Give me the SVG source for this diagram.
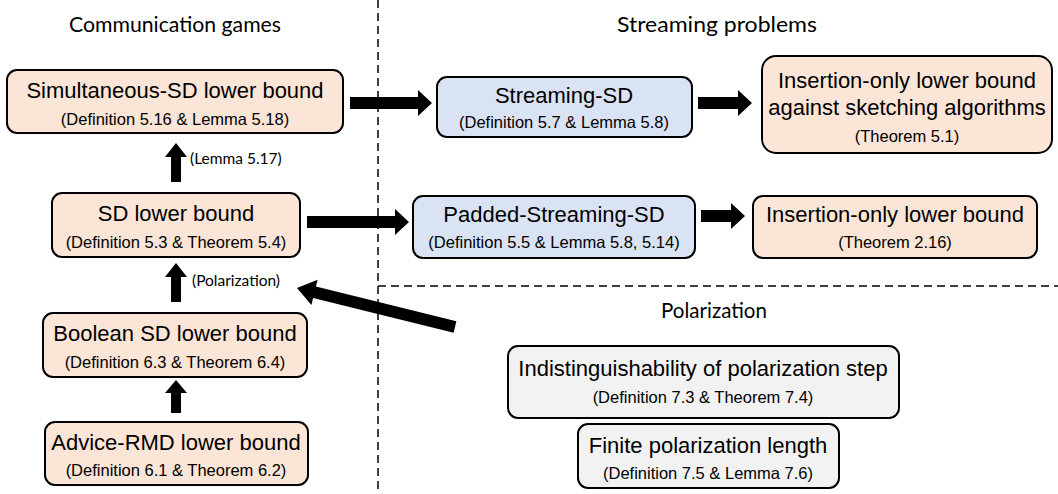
<svg xmlns="http://www.w3.org/2000/svg" width="1058" height="494" viewBox="0 0 1058 494">
<style>
.box{stroke:#000;stroke-width:2}
.peach{fill:#fbe5d6}
.blue{fill:#dae3f3}
.gray{fill:#f2f2f2}
.t{font-family:"Liberation Sans",Arial,sans-serif;font-size:22px;fill:#000;text-anchor:middle}
.s{font-family:"Liberation Sans",Arial,sans-serif;font-size:16.5px;fill:#000;text-anchor:middle}
.h{font-family:Lato,"Open Sans",sans-serif;font-size:20.5px;fill:#000;text-anchor:middle}
.l{font-family:Lato,"Open Sans",sans-serif;font-size:15.5px;fill:#000}
.dash{stroke:#000;stroke-width:1.5;stroke-dasharray:8 5;fill:none}
.arr{fill:#000}
</style>
<rect width="1058" height="494" fill="#fff"/>
<g id="dividers">
<line class="dash" x1="378" y1="0" x2="378" y2="494"/>
<line class="dash" x1="378" y1="286" x2="1058" y2="286"/>
</g>
<g id="headers">
<text class="h" x="175" y="32" textLength="212" lengthAdjust="spacingAndGlyphs">Communication games</text>
<text class="h" x="717" y="32" textLength="200" lengthAdjust="spacingAndGlyphs">Streaming problems</text>
<text class="h" x="714" y="318">Polarization</text>
</g>
<g id="connectors">
<polygon class="arr" points="350,97 418,97 418,90 432,103 418,116 418,109 350,109"/>
<polygon class="arr" points="698,97 738,97 738,90 752,103 738,116 738,109 698,109"/>
<polygon class="arr" points="307,216 395,216 395,209 409,222 395,235 395,228 307,228"/>
<polygon class="arr" points="701,210 731,210 731,203 745,216 731,229 731,222 701,222"/>
<polygon class="arr" points="171,182 171,157 165,157 176,143 187,157 181,157 181,182"/>
<polygon class="arr" points="171,302 171,277 165,277 176,263 187,277 181,277 181,302"/>
<polygon class="arr" points="171,413 171,393 165,393 176,380 187,393 181,393 181,413"/>
<polygon class="arr" points="456.4,321.2 315.9,286.5 317.6,279.7 297,288 311.4,304.9 313.1,298.1 453.6,332.8"/>
<text class="l" x="190" y="164">(Lemma 5.17)</text>
<text class="l" x="192" y="286">(Polarization)</text>
</g>
<g id="simultaneous-sd">
<rect class="box peach" x="7" y="70" width="336" height="63" rx="10"/>
<text class="t" x="175" y="98">Simultaneous-SD lower bound</text>
<text class="s" x="175" y="125">(Definition 5.16 &amp; Lemma 5.18)</text>
</g>
<g id="sd">
<rect class="box peach" x="52" y="193" width="248" height="64" rx="10"/>
<text class="t" x="176" y="221">SD lower bound</text>
<text class="s" x="176" y="248">(Definition 5.3 &amp; Theorem 5.4)</text>
</g>
<g id="boolean-sd">
<rect class="box peach" x="43" y="313" width="264" height="64" rx="10"/>
<text class="t" x="175" y="341">Boolean SD lower bound</text>
<text class="s" x="175" y="368">(Definition 6.3 &amp; Theorem 6.4)</text>
</g>
<g id="advice-rmd">
<rect class="box peach" x="45" y="422" width="263" height="63" rx="10"/>
<text class="t" x="176" y="450">Advice-RMD lower bound</text>
<text class="s" x="176" y="476">(Definition 6.1 &amp; Theorem 6.2)</text>
</g>
<g id="streaming-sd">
<rect class="box blue" x="437" y="77" width="255" height="60" rx="10"/>
<text class="t" x="564" y="103">Streaming-SD</text>
<text class="s" x="564" y="128">(Definition 5.7 &amp; Lemma 5.8)</text>
</g>
<g id="insertion-sketching">
<rect class="box peach" x="762" y="56" width="290" height="97" rx="14"/>
<text class="t" x="907" y="88">Insertion-only lower bound</text>
<text class="t" x="907" y="115">against sketching algorithms</text>
<text class="s" x="907" y="142">(Theorem 5.1)</text>
</g>
<g id="padded-streaming-sd">
<rect class="box blue" x="413" y="196" width="282" height="62" rx="10"/>
<text class="t" x="554" y="222">Padded-Streaming-SD</text>
<text class="s" x="554" y="248">(Definition 5.5 &amp; Lemma 5.8, 5.14)</text>
</g>
<g id="insertion-only">
<rect class="box peach" x="753" y="196" width="284" height="62" rx="10"/>
<text class="t" x="895" y="222">Insertion-only lower bound</text>
<text class="s" x="895" y="248">(Theorem 2.16)</text>
</g>
<g id="indistinguishability">
<rect class="box gray" x="508" y="346" width="391" height="72" rx="10"/>
<text class="t" x="703" y="376">Indistinguishability of polarization step</text>
<text class="s" x="703" y="403">(Definition 7.3 &amp; Theorem 7.4)</text>
</g>
<g id="finite-length">
<rect class="box gray" x="578" y="424" width="261" height="64" rx="10"/>
<text class="t" x="708" y="453">Finite polarization length</text>
<text class="s" x="708" y="479">(Definition 7.5 &amp; Lemma 7.6)</text>
</g>
</svg>
